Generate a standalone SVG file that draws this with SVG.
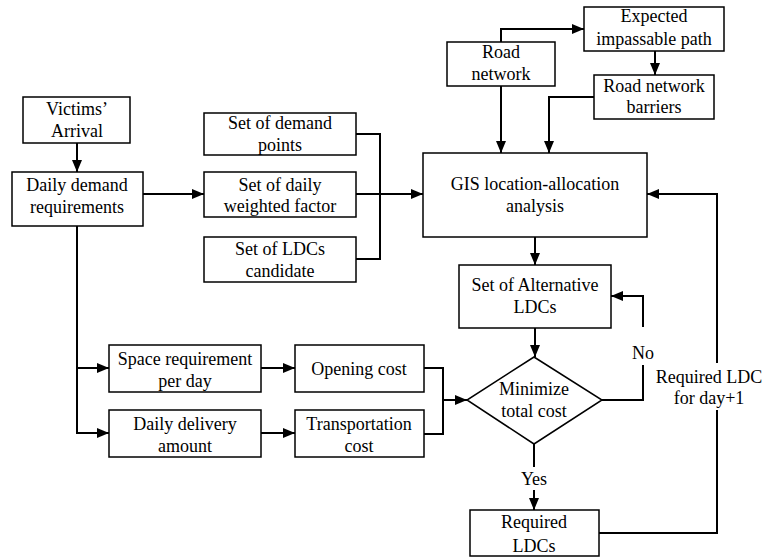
<svg xmlns="http://www.w3.org/2000/svg" width="769" height="557" viewBox="0 0 769 557">
<style>
.box{fill:#fff;stroke:#000;stroke-width:1.5}
.c{fill:none;stroke:#000;stroke-width:2}
text{font-family:"Liberation Serif","Times New Roman",serif;font-size:18px;fill:#000;text-anchor:middle}
</style>
<defs>
<marker id="ah" markerUnits="userSpaceOnUse" markerWidth="12" markerHeight="10" refX="12" refY="5" orient="auto">
<path d="M0,0 L12,5 L0,10 z" fill="#000"/>
</marker>
</defs>
<rect width="769" height="557" fill="#fff"/>
<g id="connectors">
<path class="c" d="M77,143 V172" marker-end="url(#ah)"/>
<path class="c" d="M143,194 H204" marker-end="url(#ah)"/>
<path class="c" d="M356,134 H380 V259 H356"/>
<path class="c" d="M356,194 H423" marker-end="url(#ah)"/>
<path class="c" d="M501,42 V29 H584" marker-end="url(#ah)"/>
<path class="c" d="M655,51 V75" marker-end="url(#ah)"/>
<path class="c" d="M501,86 V153" marker-end="url(#ah)"/>
<path class="c" d="M594,97 H549 V153" marker-end="url(#ah)"/>
<path class="c" d="M535,237 V265" marker-end="url(#ah)"/>
<path class="c" d="M535,328 V357" marker-end="url(#ah)"/>
<path class="c" d="M602,400 H643 V365"/>
<path class="c" d="M643,327 V296 H611" marker-end="url(#ah)"/>
<path class="c" d="M534,444 V467"/>
<path class="c" d="M534,490 V510" marker-end="url(#ah)"/>
<path class="c" d="M599,533 H717 V410"/>
<path class="c" d="M717,363 V194 H647" marker-end="url(#ah)"/>
<path class="c" d="M77,226 V433 H109" marker-end="url(#ah)"/>
<path class="c" d="M77,368 H109" marker-end="url(#ah)"/>
<path class="c" d="M261,368 H295" marker-end="url(#ah)"/>
<path class="c" d="M261,433 H295" marker-end="url(#ah)"/>
<path class="c" d="M424,368 H443 V434 H424"/>
<path class="c" d="M443,400 H467" marker-end="url(#ah)"/>
<text x="643" y="359">No</text>
<text x="534" y="485">Yes</text>
<text x="709" y="383">Required LDC</text>
<text x="709" y="404">for day+1</text>
</g>
<g id="victims"><rect class="box" x="23" y="97" width="107" height="46"/><text x="77" y="115">Victims’</text><text x="77" y="137">Arrival</text></g>
<g id="daily-demand"><rect class="box" x="12" y="172" width="131" height="54"/><text x="77" y="191">Daily demand</text><text x="77" y="213">requirements</text></g>
<g id="demand-points"><rect class="box" x="204" y="113" width="152" height="42"/><text x="280" y="129">Set of demand</text><text x="280" y="151">points</text></g>
<g id="weighted-factor"><rect class="box" x="204" y="172" width="152" height="45"/><text x="280" y="191">Set of daily</text><text x="280" y="212">weighted factor</text></g>
<g id="ldc-candidate"><rect class="box" x="204" y="237" width="152" height="45"/><text x="280" y="255">Set of LDCs</text><text x="280" y="277">candidate</text></g>
<g id="road-network"><rect class="box" x="447" y="42" width="108" height="44"/><text x="501" y="58">Road</text><text x="501" y="80">network</text></g>
<g id="impassable"><rect class="box" x="584" y="7" width="140" height="44"/><text x="654" y="22">Expected</text><text x="654" y="45">impassable path</text></g>
<g id="barriers"><rect class="box" x="594" y="75" width="120" height="44"/><text x="654" y="92">Road network</text><text x="654" y="113">barriers</text></g>
<g id="gis"><rect class="box" x="423" y="153" width="224" height="84"/><text x="535" y="190">GIS location-allocation</text><text x="535" y="212">analysis</text></g>
<g id="alternative"><rect class="box" x="459" y="265" width="152" height="63"/><text x="535" y="291">Set of Alternative</text><text x="535" y="313">LDCs</text></g>
<g id="space"><rect class="box" x="109" y="345" width="152" height="47"/><text x="185" y="365">Space requirement</text><text x="185" y="387">per day</text></g>
<g id="opening"><rect class="box" x="295" y="345" width="129" height="47"/><text x="359" y="375">Opening cost</text></g>
<g id="delivery"><rect class="box" x="109" y="410" width="152" height="47"/><text x="185" y="430">Daily delivery</text><text x="185" y="452">amount</text></g>
<g id="transport"><rect class="box" x="295" y="410" width="129" height="47"/><text x="359" y="430">Transportation</text><text x="359" y="452">cost</text></g>
<g id="minimize"><path class="box" d="M534,357 L602,400 L534,444 L467,400 Z"/><text x="534" y="395">Minimize</text><text x="534" y="417">total cost</text></g>
<g id="required"><rect class="box" x="470" y="510" width="129" height="46"/><text x="534" y="528">Required</text><text x="534" y="552">LDCs</text></g>
</svg>
